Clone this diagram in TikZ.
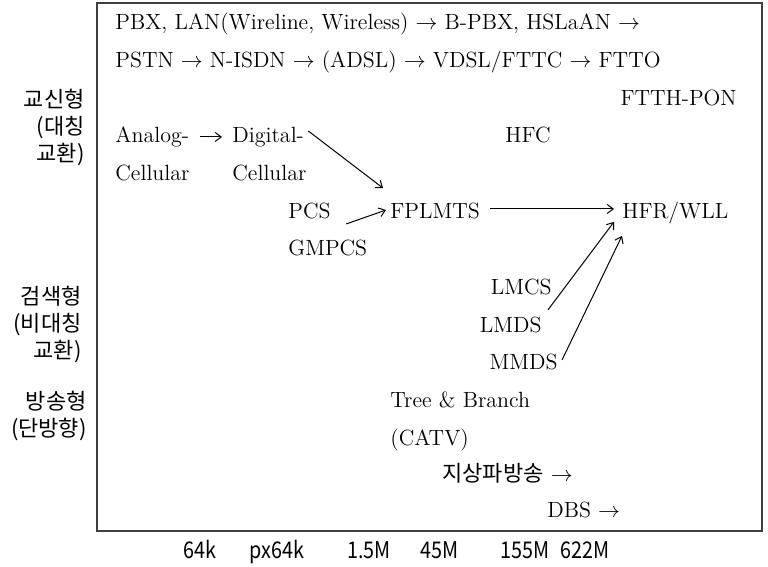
\documentclass[tikz,border=0pt]{standalone}
\usepackage{fontspec}
\newfontfamily\kr{Noto Sans CJK KR}
\newfontfamily\krn[FakeStretch = 0.86]{Noto Sans CJK KR}
\usetikzlibrary{arrows.meta}
\usetikzlibrary{positioning}

\begin{document}
\begin{tikzpicture}
	[
		x = 0.5pt, y = -0.5pt,
		mytext/.style = {inner sep = 2pt, text height = 8pt, text depth = 2.5pt, font = \fontsize{11}{13}\selectfont},
		myside/.style = {inner sep = 0pt, align = right, font = \kr\fontsize{11}{13.5}\selectfont},
		myrate/.style = {inner sep = 0pt, text height = 8.5pt, text depth = 2.5pt, font = \krn\fontsize{11.5}{12}\selectfont},
		myarrow/.style = {-{Straight Barb[length = 3pt, width = 4.5pt]}, line width = 0.5pt}
	]
	\useasboundingbox (0,0) rectangle (768,567);
	%
	\draw [line width = 0.6pt, black!75] (97,3) rectangle (762,531);
	%
	\node (pbx) [mytext, anchor = west] at (111,24) {PBX, LAN(Wireline, Wireless) $\rightarrow$ B-PBX, HSLaAN $\rightarrow$};
	\node (pstn) [mytext, anchor = west] at (111,62) {PSTN $\rightarrow$ N-ISDN $\rightarrow$ (ADSL) $\rightarrow$ VDSL/FTTC $\rightarrow$ FTTO};
	\node (ftth) [mytext, anchor = east] at (741,100) {FTTH-PON};
	%
	\node (analog) [mytext, anchor = west] at (111,137) {Analog-};
	\node (digital) [mytext, anchor = west] at (228,137) {Digital-};
	\draw [myarrow, shorten <= 3.5pt, shorten >= 3pt] (analog) -- (digital);
	\node (hfc) [mytext, anchor = west] at (501,137) {HFC};
	%
	\node (cellA) [mytext, below = 4pt of analog.south west, anchor = north west] {Cellular};
	\node (cellD) [mytext, below = 4pt of digital.south west, anchor = north west] {Cellular};
	%
	\node (pcs) [mytext, anchor = west] at (284,213) {PCS};
	\node (gmpcs) [mytext, below = 3.5pt of pcs.south west, anchor = north west] {GMPCS};
	\node (fplmts) [mytext, anchor = west] at (386,213) {FPLMTS};
	\node (hfr) [mytext, anchor = west] at (618,213) {HFR/WLL};
	\draw [myarrow] ([yshift = 3pt]digital.east) -- ([xshift = -1.5pt, yshift = 5pt]fplmts.north west);
	\draw [myarrow, shorten <= 6pt] (pcs.south east) -- ([yshift = 1.5pt]fplmts.west);
	\draw [myarrow, shorten <= 3pt, shorten >= 2pt] ([yshift = 2pt]fplmts.east) -- ([yshift = 2pt]hfr.west);
	%
	\node (lmcs) [mytext, anchor = east] at (556,289) {LMCS};
	\node (lmds) [mytext, anchor = east] at (546,327) {LMDS};
	\node (mmds) [mytext, anchor = east] at (562,364) {MMDS};
	\draw [myarrow] ([xshift = -4pt, yshift = -3pt]lmcs.south east) -- ([xshift = -2pt, yshift = 3pt]hfr.south west);
	\draw [myarrow] ([yshift = 2pt]mmds.east) -- ([xshift = 2pt, yshift = -4pt]hfr.south west);
	%
	\node (tree) [mytext, anchor = west] at (386,402) {Tree \& Branch};
	\node (catv) [mytext, below = 4pt of tree.south west, anchor = north west] {(CATV)};
	\node (terr) [mytext, anchor = west] at (438,476) {{\kr\fontsize{11}{12}\selectfont 지상파방송} $\rightarrow$};
	\node (dbs) [mytext, anchor = west] at (543,512) {DBS $\rightarrow$};
	%
	\node (sym) [myside, anchor = east] at (85,127) {교신형\\(대칭\\교환)};
	\node (asym) [myside, anchor = east] at (82,324) {검색형\\(비대칭\\교환)};
	\node (bcast) [myside, anchor = east] at (87,416) {방송형\\(단방향)};
	%
	\node (r1) [myrate] at (200,553) {64k};
	\node (r2) [myrate] at (277,553) {px64k};
	\node (r3) [myrate] at (369,553) {1.5M};
	\node (r4) [myrate] at (440,553) {45M};
	\node (r5) [myrate] at (525,553) {155M};
	\node (r6) [myrate] at (585,553) {622M};
	%
\end{tikzpicture}
\end{document}
